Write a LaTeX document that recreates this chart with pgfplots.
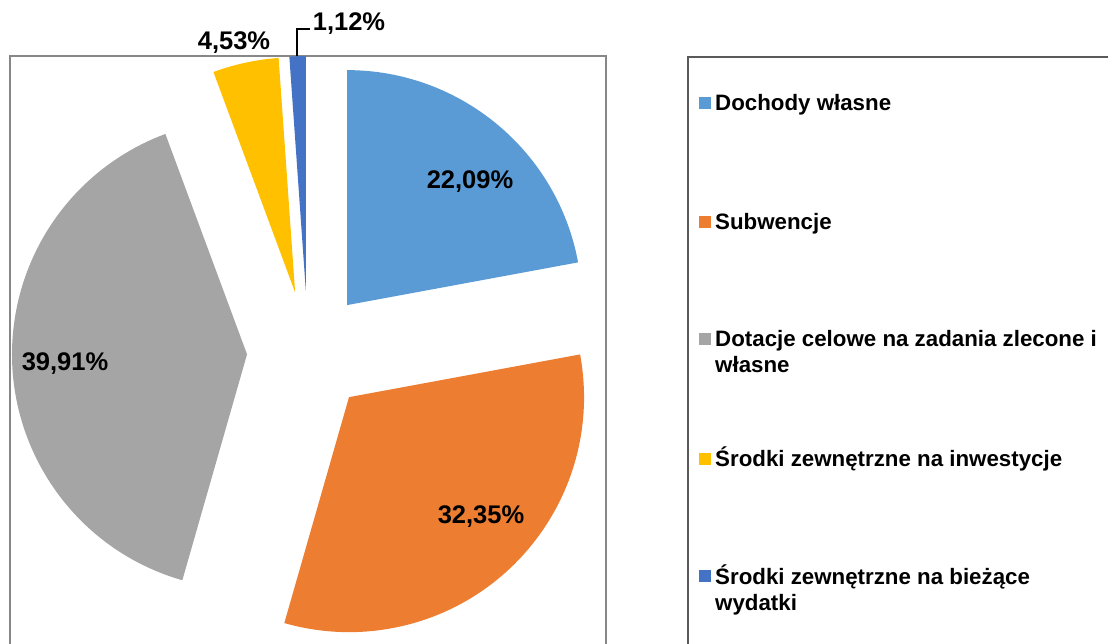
\documentclass[border=0pt]{standalone}
\usepackage{pgfplots}
\pgfplotsset{compat=1.18}
\usepackage{pgfplotstable}
\usepackage{fontspec}
\setmainfont{Liberation Sans}

\definecolor{s0}{HTML}{5B9BD5}
\definecolor{s1}{HTML}{ED7D31}
\definecolor{s2}{HTML}{A5A5A5}
\definecolor{s3}{HTML}{FFC000}
\definecolor{s4}{HTML}{4472C4}
\definecolor{boxgray}{HTML}{878787}
\definecolor{leggray}{HTML}{5A5A5A}

% share in %, label position (base centre) in axis units
\pgfplotstableread{
share lx ly
22.09 470 454
32.35 481 120
39.91 65 272
4.53 234 593
1.12 349 612
}\piedata

\tikzset{
  lbl/.style={inner sep=0pt, font=\fontsize{25.5}{30}\selectfont\bfseries},
  leg/.style={inner sep=0pt, anchor=base west, font=\fontsize{22.3}{26}\selectfont\bfseries},
}

\begin{document}
\begin{tikzpicture}
\begin{axis}[
  at={(10pt,-30pt)}, anchor=south west,
  scale only axis, width=596pt, height=617pt,
  xmin=10, xmax=606, ymin=-30, ymax=587,
  ticks=none, clip=false,
  axis line style={draw=boxgray, line width=1.5pt},
]
\def\cum{0}
\pgfplotsforeachungrouped \i in {0,...,4}{%
  \pgfplotstablegetelem{\i}{share}\of\piedata \let\sh\pgfplotsretval
  \pgfplotstablegetelem{\i}{lx}\of\piedata \let\lx\pgfplotsretval
  \pgfplotstablegetelem{\i}{ly}\of\piedata \let\ly\pgfplotsretval
  \pgfmathsetmacro\angA{90-3.6*\cum}
  \pgfmathsetmacro\cum{\cum+\sh}
  \pgfmathsetmacro\angB{90-3.6*\cum}
  \pgfmathsetmacro\angM{(\angA+\angB)/2}
  \pgfmathsetmacro\vx{308+61*cos(\angM)}
  \pgfmathsetmacro\vy{291+61*sin(\angM)}
  \edef\cmd{%
    \noexpand\fill[s\i] (axis cs:\vx,\vy) -- ++(\angA:235pt)
      arc[start angle=\angA, end angle=\angB, radius=235pt] -- cycle;
    \noexpand\node[lbl, anchor=base] at (axis cs:\lx,\ly)
      {\noexpand\pgfmathprintnumber[fixed,fixed zerofill,precision=2,use comma,assume math mode=true]{\sh}\noexpand\%};}%
  \cmd
}
% leader line for the smallest slice
\draw[black, line width=1.2pt] (axis cs:297,587) -- (axis cs:297,614) -- (axis cs:310,614);
\end{axis}

% legend
\draw[leggray, line width=1.5pt] (688pt,-20pt) -- (688pt,586pt) -- (1130pt,586pt);
\fill[s0] (699pt,534pt) rectangle ++(12pt,12pt);
\fill[s1] (699pt,415pt) rectangle ++(12pt,12pt);
\fill[s2] (699pt,298pt) rectangle ++(12pt,12pt);
\fill[s3] (699pt,178pt) rectangle ++(12pt,12pt);
\fill[s4] (699pt,61pt) rectangle ++(12pt,12pt);
\node[leg] at (715pt,532pt) {Dochody własne};
\node[leg] at (715pt,413pt) {Subwencje};
\node[leg] at (715pt,296pt) {Dotacje celowe na zadania zlecone i};
\node[leg] at (715pt,270pt) {własne};
\node[leg] at (715pt,176pt) {Środki zewnętrzne na inwestycje};
\node[leg] at (715pt,59pt) {Środki zewnętrzne na bieżące};
\node[leg] at (715pt,33pt) {wydatki};

\pgfresetboundingbox
\useasboundingbox (0pt,0pt) rectangle (1108pt,643pt);
\end{tikzpicture}
\end{document}
